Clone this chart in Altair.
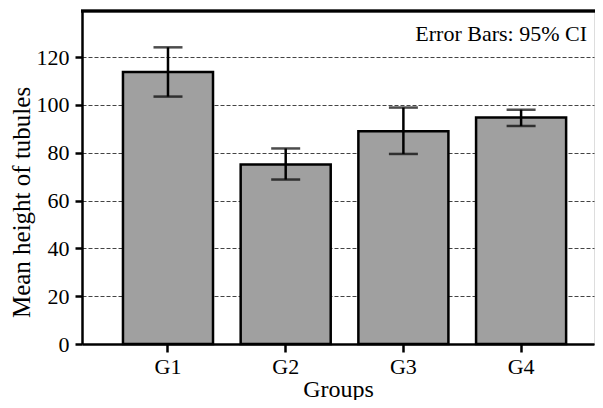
import altair as alt
import pandas as pd

groups = ["G1", "G2", "G3", "G4"]
means = [113.8, 75.1, 89.0, 94.7]
ci_low = [103.5, 68.8, 79.5, 91.2]
ci_high = [124.1, 81.8, 98.9, 98.0]

df = pd.DataFrame({"group": groups, "mean": means, "lo": ci_low, "hi": ci_high})

W, H = 512, 333
FONT = "'Liberation Serif', 'Times New Roman', 'DejaVu Serif', serif"

x = alt.X("group:N", sort=groups,
          scale=alt.Scale(paddingInner=0.235, paddingOuter=0.2925, align=0.595),
          axis=alt.Axis(title="Groups", labelAngle=0, labelFontSize=22, titleFontSize=24,
                        labelFont=FONT, titleFont=FONT, labelColor="black", titleColor="black",
                        titleFontWeight="normal", domainColor="black", domainWidth=2.5,
                        tickColor="black", tickWidth=2.5, tickSize=8, labelPadding=4,
                        titleY=52, titleBaseline="alphabetic", grid=False))
y_axis = alt.Axis(title="Mean height of tubules", values=[0, 20, 40, 60, 80, 100, 120],
                  labelFontSize=22, titleFontSize=25, labelFont=FONT, titleFont=FONT,
                  labelColor="black", titleColor="black", titleFontWeight="normal",
                  domainColor="black", domainWidth=2.5, tickColor="black", tickWidth=2.5,
                  tickSize=7, labelPadding=6, grid=True, gridColor="#444444",
                  gridDash=[4, 2], gridWidth=1, titleX=-53, titleY=191,
                  titleBaseline="alphabetic", titleAngle=-90)
yscale = alt.Scale(domain=[0, 139.3], nice=False, zero=True)

bars = alt.Chart(df).mark_bar(color="#a0a0a0", stroke="black", strokeWidth=2.5).encode(
    x=x, y=alt.Y("mean:Q", scale=yscale, axis=y_axis))

rules = alt.Chart(df).mark_rule(color="black", strokeWidth=2.5).encode(
    x=alt.X("group:N", sort=groups), y=alt.Y("lo:Q"), y2="hi:Q")
cap_hi = alt.Chart(df).mark_tick(color="black", size=29, thickness=2.5, orient="horizontal").encode(
    x=alt.X("group:N", sort=groups), y="hi:Q")
cap_lo = alt.Chart(df).mark_tick(color="black", size=29, thickness=2.5, orient="horizontal").encode(
    x=alt.X("group:N", sort=groups), y="lo:Q")

top = alt.Chart(df).mark_rule(color="black", strokeWidth=2.5).encode(
    x=alt.value(-1), x2=alt.value(W + 10), y=alt.value(0))

note = alt.Chart(pd.DataFrame({"t": ["Error Bars: 95% CI"]})).mark_text(
    align="right", baseline="alphabetic", font=FONT, fontSize=22, color="black").encode(
    x=alt.value(505), y=alt.value(30), text="t:N")

chart = alt.layer(bars, rules, cap_hi, cap_lo, top, note).properties(
    width=W, height=H, autosize=alt.AutoSizeParams(type="none"),
    padding={"left": 74, "top": 3, "right": 1, "bottom": 56}
).configure_view(stroke=None).configure(background="white")

chart.save("out.html", embed_options={"renderer": "svg", "actions": False})
